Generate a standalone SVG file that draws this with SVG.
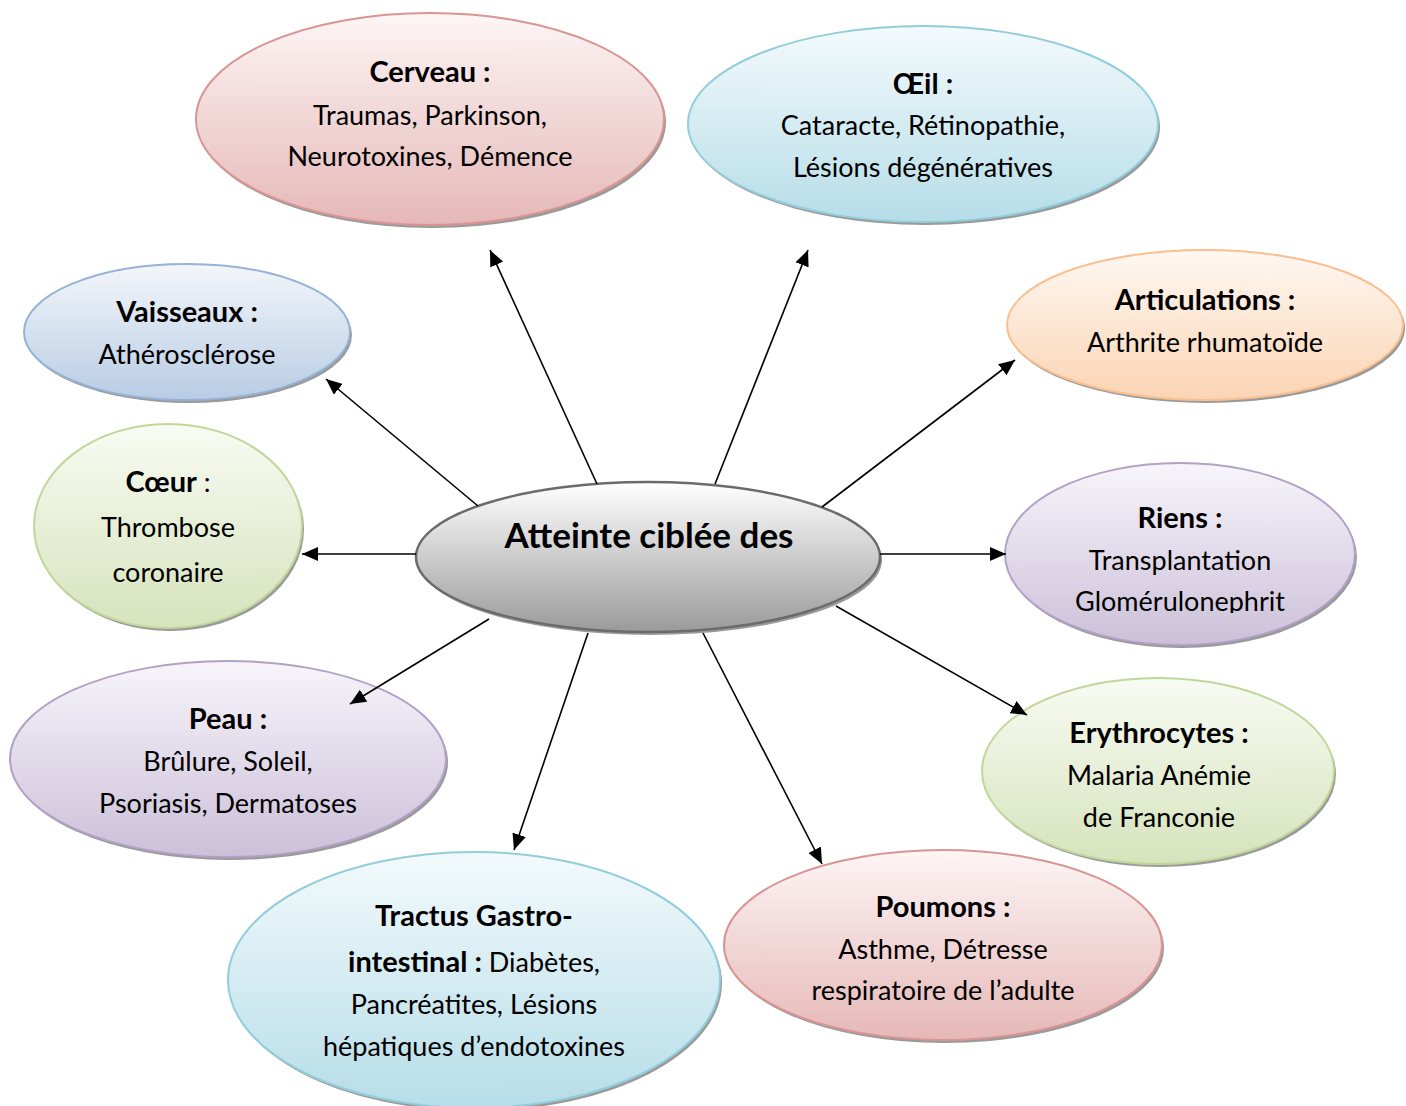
<svg xmlns="http://www.w3.org/2000/svg" width="1406" height="1106" viewBox="0 0 1406 1106">
<defs>
<style>
text{font-family:Lato,"Open Sans","Liberation Sans",sans-serif;font-size:27px;fill:#000;text-anchor:middle}
.b{font-weight:bold;font-size:29px}
.t{font-size:35px;font-weight:bold}
.sh{fill:#9a9a9a}
.conn line{stroke:#000;stroke-width:1.6;marker-end:url(#ah)}
</style>
<marker id="ah" markerUnits="userSpaceOnUse" markerWidth="18" markerHeight="14" refX="16" refY="7" orient="auto"><path d="M0,0 L16,7 L0,14 Z" fill="#000"/></marker>
<linearGradient id="gPink" x1="0" y1="0" x2="0" y2="1"><stop offset="0" stop-color="#fdf5f5"/><stop offset="1" stop-color="#e5b8b7"/></linearGradient>
<linearGradient id="gBlue" x1="0" y1="0" x2="0" y2="1"><stop offset="0" stop-color="#f3fafc"/><stop offset="1" stop-color="#b6dde8"/></linearGradient>
<linearGradient id="gSteel" x1="0" y1="0" x2="0" y2="1"><stop offset="0" stop-color="#f3f6fa"/><stop offset="1" stop-color="#b8cce4"/></linearGradient>
<linearGradient id="gOrange" x1="0" y1="0" x2="0" y2="1"><stop offset="0" stop-color="#fef8f2"/><stop offset="1" stop-color="#fbd4b4"/></linearGradient>
<linearGradient id="gGreen" x1="0" y1="0" x2="0" y2="1"><stop offset="0" stop-color="#f8fbf3"/><stop offset="1" stop-color="#d6e3bc"/></linearGradient>
<linearGradient id="gPurple" x1="0" y1="0" x2="0" y2="1"><stop offset="0" stop-color="#f7f5fa"/><stop offset="1" stop-color="#ccc0d9"/></linearGradient>
<linearGradient id="gGray" x1="0" y1="0" x2="0" y2="1"><stop offset="0" stop-color="#ffffff"/><stop offset="1" stop-color="#9a9a9a"/></linearGradient>
<clipPath id="clipR"><rect x="1000" y="450" width="370" height="163"/></clipPath>
</defs>
<rect width="1406" height="1106" fill="#fff"/>

<g id="center">
<ellipse class="sh" cx="650" cy="560" rx="232" ry="75"/>
<ellipse cx="648" cy="557" rx="232" ry="75" fill="url(#gGray)" stroke="#6b6b6b" stroke-width="2.5"/>
<text class="t" x="649" y="548">Atteinte ciblée des</text>
</g>

<g id="cerveau">
<ellipse class="sh" cx="432" cy="122" rx="234" ry="106"/>
<ellipse cx="430" cy="119" rx="234" ry="106" fill="url(#gPink)" stroke="#d99594" stroke-width="2"/>
<text class="b" x="430" y="82">Cerveau :</text>
<text x="430" y="125">Traumas, Parkinson,</text>
<text x="430" y="166">Neurotoxines, Démence</text>
</g>

<g id="oeil">
<ellipse class="sh" cx="925" cy="127" rx="235" ry="98"/>
<ellipse cx="923" cy="124" rx="235" ry="98" fill="url(#gBlue)" stroke="#92cddc" stroke-width="2"/>
<text class="b" x="923" y="94">Œil :</text>
<text x="923" y="135">Cataracte, Rétinopathie,</text>
<text x="923" y="177">Lésions dégénératives</text>
</g>

<g id="vaisseaux">
<ellipse class="sh" cx="189" cy="335" rx="163" ry="68"/>
<ellipse cx="187" cy="332" rx="163" ry="68" fill="url(#gSteel)" stroke="#95b3d7" stroke-width="2"/>
<text class="b" x="187" y="322">Vaisseaux :</text>
<text x="187" y="364">Athérosclérose</text>
</g>

<g id="articulations">
<ellipse class="sh" cx="1207" cy="328" rx="198" ry="75"/>
<ellipse cx="1205" cy="325" rx="198" ry="75" fill="url(#gOrange)" stroke="#fabf8f" stroke-width="2"/>
<text class="b" x="1205" y="310">Articulations :</text>
<text x="1205" y="352">Arthrite rhumatoïde</text>
</g>

<g id="coeur">
<ellipse class="sh" cx="170" cy="529" rx="134" ry="102"/>
<ellipse cx="168" cy="526" rx="134" ry="102" fill="url(#gGreen)" stroke="#c2d69b" stroke-width="2"/>
<text x="168" y="492"><tspan class="b">Cœur</tspan> :</text>
<text x="168" y="537">Thrombose</text>
<text x="168" y="582">coronaire</text>
</g>

<g id="riens">
<ellipse class="sh" cx="1182" cy="557" rx="175" ry="91"/>
<ellipse cx="1180" cy="554" rx="175" ry="91" fill="url(#gPurple)" stroke="#b2a1c7" stroke-width="2"/>
<text class="b" x="1180" y="528">Riens :</text>
<text x="1180" y="570">Transplantation</text>
<text x="1180" y="611" clip-path="url(#clipR)">Glomérulonephrit</text>
</g>

<g id="peau">
<ellipse class="sh" cx="230" cy="762" rx="218" ry="98"/>
<ellipse cx="228" cy="759" rx="218" ry="98" fill="url(#gPurple)" stroke="#b2a1c7" stroke-width="2"/>
<text class="b" x="228" y="729">Peau :</text>
<text x="228" y="771">Brûlure, Soleil,</text>
<text x="228" y="813">Psoriasis, Dermatoses</text>
</g>

<g id="erythrocytes">
<ellipse class="sh" cx="1160" cy="774" rx="176" ry="93"/>
<ellipse cx="1158" cy="771" rx="176" ry="93" fill="url(#gGreen)" stroke="#c2d69b" stroke-width="2"/>
<text class="b" x="1159" y="743">Erythrocytes :</text>
<text x="1159" y="785">Malaria Anémie</text>
<text x="1159" y="827">de Franconie</text>
</g>

<g id="tractus">
<ellipse class="sh" cx="476" cy="983" rx="246" ry="128"/>
<ellipse cx="474" cy="980" rx="246" ry="128" fill="url(#gBlue)" stroke="#92cddc" stroke-width="2"/>
<text class="b" x="474" y="926">Tractus Gastro-</text>
<text x="474" y="972"><tspan class="b">intestinal :</tspan> Diabètes,</text>
<text x="474" y="1014">Pancréatites, Lésions</text>
<text x="474" y="1056">hépatiques d’endotoxines</text>
</g>

<g id="poumons">
<ellipse class="sh" cx="945" cy="948" rx="219" ry="95"/>
<ellipse cx="943" cy="945" rx="219" ry="95" fill="url(#gPink)" stroke="#d99594" stroke-width="2"/>
<text class="b" x="943" y="917">Poumons :</text>
<text x="943" y="959">Asthme, Détresse</text>
<text x="943" y="1000">respiratoire de l’adulte</text>
</g>

<g class="conn" id="connectors">
<line x1="597" y1="484" x2="490" y2="250"/>
<line x1="715" y1="484" x2="808" y2="250"/>
<line x1="822" y1="507" x2="1015" y2="360"/>
<line x1="880" y1="554" x2="1006" y2="554"/>
<line x1="836" y1="606" x2="1027" y2="715"/>
<line x1="703" y1="633" x2="822" y2="864"/>
<line x1="588" y1="633" x2="514" y2="850"/>
<line x1="489" y1="619" x2="350" y2="704"/>
<line x1="416" y1="554" x2="302" y2="554"/>
<line x1="478" y1="506" x2="326" y2="379"/>
</g>
</svg>
